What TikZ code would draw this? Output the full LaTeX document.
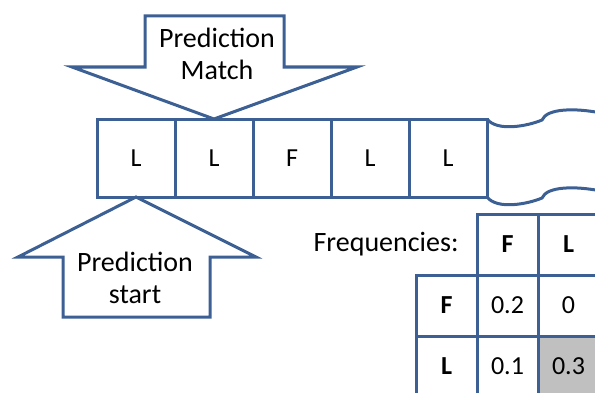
\documentclass[tikz,border=0pt]{standalone}
\usepackage{fontspec}
\setmainfont{Carlito}
\usetikzlibrary{positioning}

\definecolor{tapeblue}{RGB}{60,96,148}
\definecolor{hitgray}{RGB}{192,192,192}

\begin{document}
\begin{tikzpicture}[
  x=1pt, y=1pt,
  line width=3pt, line join=miter,
  every node/.style={font=\fontsize{26}{32}\selectfont},
  cell/.style={draw=tapeblue,minimum width=78pt,minimum height=78pt,
    inner sep=0pt,outer sep=0pt},
  tcell/.style={draw=tapeblue,minimum size=61pt,inner sep=0pt,outer sep=0pt},
  callout/.style={draw=tapeblue,fill=white},
  note/.style={align=center,inner sep=0pt,font=\fontsize{28}{32}\selectfont}
]
\useasboundingbox (0,0) rectangle (595,392);

% --- Tape of observed symbols ---
\node[cell] at (136,234) (c1) {L};
\node[cell,right=0pt of c1] (c2) {L};
\node[cell,right=0pt of c2] (c3) {F};
\node[cell,right=0pt of c3] (c4) {L};
\node[cell,right=0pt of c4] (c5) {L};

% --- Torn end of the tape ---
\draw[tapeblue] (c5.north east)
  .. controls +(10,-13) and +(-14,-6) .. ++(55,-1)
  .. controls +(5,12) and +(-25,5) .. ++(59,7);
\draw[tapeblue] (c5.south east)
  .. controls +(10,-13) and +(-14,-6) .. ++(55,-1)
  .. controls +(5,12) and +(-25,5) .. ++(59,7);

% --- Arrows ---
\draw[callout] (c2.north) -- ++(-142,52) -- ++(73,0) -- ++(0,51)
  -- ++(139,0) -- ++(0,-51) -- ++(73,0) -- cycle;
\node[note] at (217,338) (match) {Prediction\\Match};

\draw[callout] (c1.south) -- ++(-118,-60) -- ++(45,0) -- ++(0,-60)
  -- ++(147,0) -- ++(0,60) -- ++(46,0) -- cycle;
\node[note] at (135,114) (start) {Prediction\\start};

% --- Frequency table ---
\node[tcell] at (507.5,147.5) (hF) {\textbf{F}};
\node[tcell,right=0pt of hF] (hL) {\textbf{L}};
\node[tcell,below=0pt of hF] (fF) {0.2};
\node[tcell,below=0pt of hL] (fL) {0};
\node[tcell,left=0pt of fF] (rF) {\textbf{F}};
\node[tcell,below=0pt of fF] (lF) {0.1};
\node[tcell,below=0pt of fL,fill=hitgray] (lL) {0.3};
\node[tcell,left=0pt of lF] (rL) {\textbf{L}};
\node[note,left=17pt of hF] (freq) {Frequencies:};

\end{tikzpicture}
\end{document}
